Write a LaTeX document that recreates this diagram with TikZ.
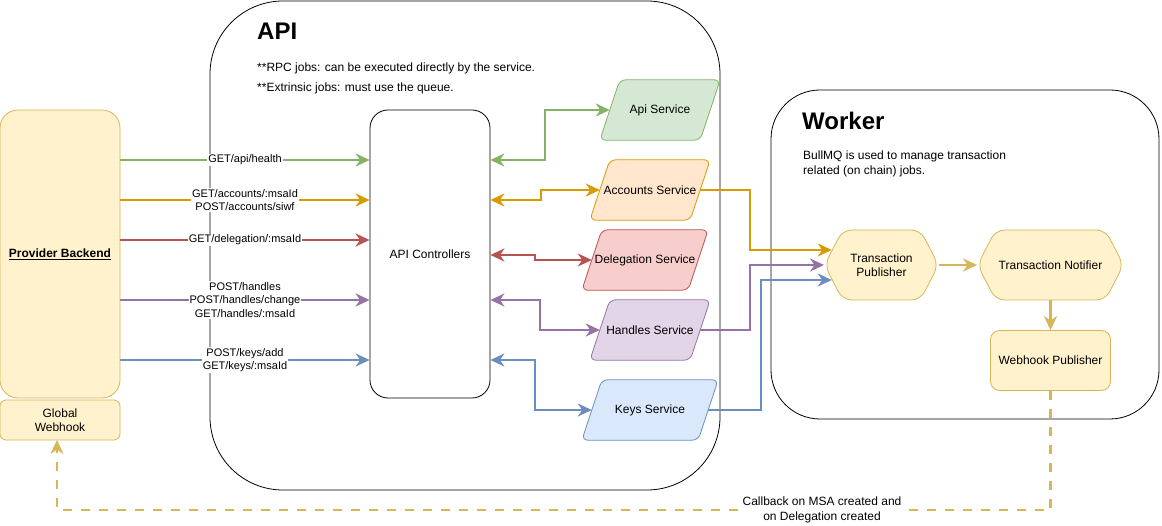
\documentclass[tikz,border=0pt]{standalone}
\usepackage{fontspec}
\setmainfont{Liberation Sans}
\usetikzlibrary{arrows.meta,shapes.geometric,shapes.symbols}
\definecolor{gF}{HTML}{D5E8D4}\definecolor{gS}{HTML}{82B366}
\definecolor{oF}{HTML}{FFE6CC}\definecolor{oS}{HTML}{D79B00}
\definecolor{rF}{HTML}{F8CECC}\definecolor{rS}{HTML}{B85450}
\definecolor{pF}{HTML}{E1D5E7}\definecolor{pS}{HTML}{9673A6}
\definecolor{bF}{HTML}{DAE8FC}\definecolor{bS}{HTML}{6C8EBF}
\definecolor{yF}{HTML}{FFF2CC}\definecolor{yS}{HTML}{D6B656}
\pgfdeclarelayer{background}
\pgfsetlayers{background,main}
\tikzset{
  mytip/.tip={Stealth[length=14pt,width=13pt,inset=4.5pt]},
  container/.style={draw=black, line width=0.8pt, rounded corners=#1, inner sep=0pt},
  yelbox/.style={draw=yS, fill=yF, line width=0.8pt, align=center, inner sep=2pt,
    font=\fontsize{12pt}{14.4pt}\selectfont},
  svc/.style={rectangle, minimum height=60pt, inner sep=0pt,
    font=\fontsize{12pt}{14.4pt}\selectfont},
  parashape/.style={line width=0.8pt, rounded corners=6pt},
  hexa/.style={signal, signal to=west and east, signal pointer angle=125,
    minimum height=70pt, draw=yS, fill=yF, line width=0.8pt, rounded corners=9pt,
    align=center, inner sep=0pt, font=\fontsize{12pt}{14.4pt}\selectfont},
  conn/.style={line width=2.4pt, -mytip},
  both/.style={line width=2.4pt, mytip-mytip},
  lbl/.style={fill=white, text=black, inner sep=1pt, align=center,
    font=\fontsize{11pt}{13.5pt}\selectfont},
  note/.style={anchor=base west, inner sep=0pt, font=\fontsize{12pt}{14.4pt}\selectfont},
  title/.style={anchor=base west, inner sep=0pt, font=\fontsize{24pt}{28pt}\selectfont\bfseries},
}
\newcommand\paradraw[3]{%
  \begin{pgfonlayer}{background}
  \draw[parashape, draw=#2, fill=#3] ([xshift=-10pt]#1.south west) -- ([xshift=10pt]#1.north west)
    -- ([xshift=10pt]#1.north east) -- ([xshift=-10pt]#1.south east) -- cycle;
  \end{pgfonlayer}}
\begin{document}
\begin{tikzpicture}[x=1pt,y=-1pt]
\useasboundingbox (0,0) rectangle (1162,526);

% containers
\begin{pgfonlayer}{background}
\node[container=73pt, minimum width=510pt, minimum height=489pt] (apic) at (465,245.5) {};
\node[container=49pt, minimum width=388pt, minimum height=329pt] (work) at (965,254.5) {};
\end{pgfonlayer}

% titles and notes
\node[title] (apit) at (257,40) {API};
\node[note] (n1) at (257,72) {**RPC jobs: can be executed directly by the service.};
\node[note] (n2) at (257,92) {**Extrinsic jobs: must use the queue.};
\node[title] (workt) at (802,130) {Worker};
\node[note] (b1) at (803,159.5) {BullMQ is used to manage transaction};
\node[note] (b2) at (803,174.5) {related (on chain) jobs.};

% left boxes
\node[yelbox, rounded corners=18pt, minimum width=120pt, minimum height=288pt,
  font=\fontsize{12pt}{14.4pt}\selectfont\bfseries] (pb) at (60,254) {\underline{Provider Backend}};
\node[yelbox, rounded corners=6pt, minimum width=120pt, minimum height=40pt] (gw) at (60,420) {Global\\Webhook};

% controllers
\node[draw=black, line width=0.8pt, rounded corners=18pt, minimum width=120pt,
  minimum height=288pt, font=\fontsize{12pt}{14.4pt}\selectfont] (ctrl) at (430,254) {API Controllers};

% services (parallelograms: node = mid-width box, slant 20)
\node[svc, minimum width=100pt] (api) at (660,110) {Api Service};
\paradraw{api}{gS}{gF}
\node[svc, minimum width=100pt] (acc) at (650,190) {Accounts Service};
\paradraw{acc}{oS}{oF}
\node[svc, minimum width=106pt] (del) at (645,260) {Delegation Service};
\paradraw{del}{rS}{rF}
\node[svc, minimum width=100pt] (han) at (650,330) {Handles Service};
\paradraw{han}{pS}{pF}
\node[svc, minimum width=116pt] (key) at (650,410) {Keys Service};
\paradraw{key}{bS}{bF}

% worker nodes
\node[hexa, minimum width=114pt] (tp) at (881.5,265) {Transaction\\Publisher};
\node[hexa, minimum width=146pt] (tn) at (1050.5,265) {Transaction Notifier};
\node[yelbox, rounded corners=9pt, minimum width=120pt, minimum height=60pt] (wp) at (1050.5,360.5) {Webhook Publisher};

% backend -> controllers
\draw[conn, gS] (pb.east |- 0,160) -- node[lbl]{GET/api/health} (ctrl.west |- 0,160);
\draw[conn, oS] (pb.east |- 0,200) -- node[lbl]{GET/accounts/:msaId\\POST/accounts/siwf} (ctrl.west |- 0,200);
\draw[conn, rS] (pb.east |- 0,240) -- node[lbl]{GET/delegation/:msaId} (ctrl.west |- 0,240);
\draw[conn, pS] (pb.east |- 0,300) -- node[lbl]{POST/handles\\POST/handles/change\\GET/handles/:msaId} (ctrl.west |- 0,300);
\draw[conn, bS] (pb.east |- 0,360) -- node[lbl]{POST/keys/add\\GET/keys/:msaId} (ctrl.west |- 0,360);

% controllers <-> services
\draw[both, gS] (ctrl.east |- 0,160) -- (545,160) |- (api.west);
\draw[both, oS] (ctrl.east |- 0,200) -- (541,200) |- (acc.west);
\draw[both, rS] (ctrl.east |- 0,255) -- (535,255) |- (del.west);
\draw[both, pS] (ctrl.east |- 0,300) -- (540,300) |- (han.west);
\draw[both, bS] (ctrl.east |- 0,360) -- (535,360) |- (key.west);

% services -> transaction publisher
\draw[conn, oS] (acc.east) -- (750,190) |- ([xshift=7.7pt,yshift=15pt]tp.west);
\draw[conn, pS] (han.east) -- (750,330) |- (tp.west);
\draw[conn, bS] (key.east) -- (761,410) |- ([xshift=7.7pt,yshift=-15pt]tp.west);

% worker flow
\draw[conn, yS] (tp.east) -- (tn.west);
\draw[conn, yS] (tn.south) -- (wp.north);

% callback
\draw[conn, yS, dash pattern=on 9pt off 9pt] (wp.south) -- (1050.5,510)
  -- node[lbl, pos=0.23, font=\fontsize{12pt}{15pt}\selectfont]{Callback on MSA created and\\on Delegation created} (57,510)
  -- (57,440);
\end{tikzpicture}
\end{document}
